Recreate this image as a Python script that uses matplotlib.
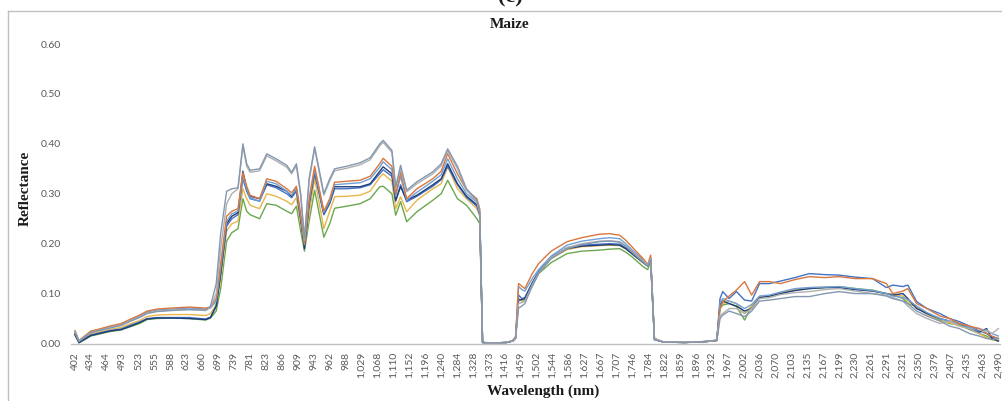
import numpy as np
import matplotlib
matplotlib.use("Agg")
import matplotlib.pyplot as plt
from matplotlib.lines import Line2D

# Category-axis tick labels (band wavelengths, nm)
tick_wavelengths = [402, 434, 464, 493, 523, 555, 588, 623, 660, 699, 739, 781, 823, 866, 909,
                    943, 962, 988, 1029, 1068, 1110, 1152, 1196, 1240, 1284, 1328, 1373, 1416,
                    1459, 1502, 1544, 1586, 1627, 1667, 1707, 1746, 1784, 1822, 1859, 1896, 1932,
                    1967, 2002, 2036, 2070, 2103, 2135, 2167, 2199, 2230, 2261, 2291, 2321, 2350,
                    2379, 2407, 2435, 2463, 2490]

# Sampled wavelengths (nm), by spectral region
wl_vis = [402, 410, 434, 450, 470, 490, 506, 525, 540, 560, 590, 630, 668]
wl_red = [680, 694, 705, 720, 733, 749, 762]
wl_nir = [772, 781, 806, 825, 850, 879, 892, 905, 915, 923, 933, 944, 955, 962, 970, 990, 1025,
          1050, 1074, 1083, 1106, 1116, 1129, 1145, 1173, 1217, 1240, 1258, 1285, 1310, 1339,
          1347, 1355]
wl_gap1 = [1380, 1420, 1437, 1445]
wl_swir1 = [1453, 1462, 1470, 1490, 1507, 1540, 1582, 1620, 1665, 1690, 1715, 1730, 1745, 1772,
            1783, 1790, 1799]
wl_gap2 = [1820, 1870, 1920, 1943]
wl_swir2 = [1950, 1956, 1970, 1986, 2004, 2019, 2036, 2057, 2080, 2110, 2139, 2170, 2199, 2230,
            2264, 2290, 2302, 2321, 2330, 2346, 2365, 2388, 2405, 2422, 2440, 2457, 2470, 2479,
            2490]
wavelength_nm = wl_vis + wl_red + wl_nir + wl_gap1 + wl_swir1 + wl_gap2 + wl_swir2

refl_slate = (
    [0.022, 0.004, 0.022, 0.026, 0.031, 0.036, 0.044, 0.052, 0.060, 0.064, 0.066, 0.068, 0.067]
    + [0.075, 0.120, 0.220, 0.305, 0.310, 0.312, 0.400]
    + [0.360, 0.347, 0.350, 0.380, 0.370, 0.357, 0.343, 0.360, 0.300, 0.210,
       0.330, 0.394, 0.300, 0.330, 0.350, 0.355, 0.362, 0.372, 0.400, 0.407,
       0.387, 0.314, 0.357, 0.307, 0.324, 0.344, 0.360, 0.390, 0.355, 0.310,
       0.287, 0.265, 0.002]
    + [0.001, 0.002, 0.005, 0.010]
    + [0.071, 0.075, 0.080, 0.115, 0.140, 0.170, 0.190, 0.198, 0.204, 0.205, 0.203, 0.195, 0.183,
       0.163, 0.155, 0.168, 0.008]
    + [0.003, 0.002, 0.004, 0.006]
    + [0.050, 0.057, 0.065, 0.060, 0.054, 0.065, 0.085, 0.087, 0.090, 0.094,
       0.094, 0.100, 0.104, 0.100, 0.100, 0.095, 0.090, 0.085, 0.080, 0.065,
       0.055, 0.045, 0.035, 0.030, 0.020, 0.015, 0.010, 0.008, 0.010]
)
refl_gray = (
    [0.025, 0.005, 0.022, 0.026, 0.032, 0.037, 0.045, 0.053, 0.061, 0.065, 0.067, 0.068, 0.066]
    + [0.072, 0.100, 0.190, 0.280, 0.300, 0.310, 0.395]
    + [0.355, 0.343, 0.346, 0.376, 0.366, 0.353, 0.340, 0.356, 0.296, 0.207,
       0.326, 0.390, 0.297, 0.326, 0.346, 0.351, 0.358, 0.368, 0.396, 0.403,
       0.383, 0.311, 0.352, 0.304, 0.320, 0.340, 0.356, 0.386, 0.350, 0.307,
       0.284, 0.262, 0.002]
    + [0.001, 0.002, 0.006, 0.012]
    + [0.080, 0.082, 0.085, 0.118, 0.142, 0.172, 0.192, 0.200, 0.205, 0.206, 0.204, 0.196, 0.185,
       0.165, 0.157, 0.170, 0.010]
    + [0.003, 0.003, 0.004, 0.007]
    + [0.055, 0.060, 0.070, 0.070, 0.060, 0.070, 0.090, 0.092, 0.098, 0.102,
       0.104, 0.108, 0.110, 0.105, 0.100, 0.097, 0.092, 0.085, 0.075, 0.060,
       0.050, 0.040, 0.045, 0.035, 0.030, 0.020, 0.027, 0.020, 0.030]
)
refl_orange = (
    [0.026, 0.006, 0.025, 0.029, 0.035, 0.040, 0.048, 0.057, 0.065, 0.069, 0.071, 0.073, 0.071]
    + [0.073, 0.090, 0.160, 0.255, 0.265, 0.270, 0.342]
    + [0.315, 0.297, 0.290, 0.330, 0.325, 0.310, 0.302, 0.315, 0.260, 0.200,
       0.290, 0.355, 0.265, 0.290, 0.323, 0.325, 0.327, 0.335, 0.360, 0.371,
       0.355, 0.300, 0.343, 0.290, 0.310, 0.330, 0.345, 0.380, 0.340, 0.307,
       0.290, 0.270, 0.002]
    + [0.001, 0.002, 0.006, 0.014]
    + [0.120, 0.115, 0.110, 0.140, 0.160, 0.185, 0.204, 0.212, 0.219, 0.220, 0.217, 0.207, 0.194,
       0.170, 0.158, 0.177, 0.010]
    + [0.003, 0.002, 0.004, 0.006]
    + [0.070, 0.084, 0.095, 0.107, 0.124, 0.097, 0.124, 0.124, 0.120, 0.128,
       0.134, 0.132, 0.134, 0.130, 0.130, 0.120, 0.100, 0.105, 0.110, 0.080,
       0.070, 0.055, 0.050, 0.040, 0.035, 0.030, 0.020, 0.015, 0.010]
)
refl_lightblue = (
    [0.024, 0.005, 0.023, 0.027, 0.033, 0.038, 0.046, 0.055, 0.063, 0.067, 0.069, 0.071, 0.069]
    + [0.071, 0.085, 0.150, 0.245, 0.260, 0.265, 0.335]
    + [0.310, 0.292, 0.285, 0.325, 0.320, 0.305, 0.297, 0.310, 0.255, 0.198,
       0.285, 0.348, 0.262, 0.285, 0.318, 0.320, 0.322, 0.330, 0.353, 0.364,
       0.348, 0.295, 0.335, 0.287, 0.303, 0.325, 0.338, 0.370, 0.330, 0.300,
       0.283, 0.260, 0.002]
    + [0.001, 0.002, 0.005, 0.013]
    + [0.114, 0.108, 0.105, 0.130, 0.148, 0.175, 0.197, 0.205, 0.210, 0.212, 0.210, 0.200, 0.188,
       0.168, 0.158, 0.172, 0.010]
    + [0.003, 0.002, 0.004, 0.006]
    + [0.082, 0.090, 0.085, 0.080, 0.070, 0.078, 0.095, 0.097, 0.103, 0.110,
       0.112, 0.113, 0.114, 0.110, 0.106, 0.100, 0.095, 0.092, 0.088, 0.075,
       0.062, 0.050, 0.045, 0.040, 0.032, 0.030, 0.025, 0.020, 0.015]
)
refl_navy = (
    [0.018, 0.002, 0.016, 0.020, 0.025, 0.028, 0.034, 0.042, 0.049, 0.051, 0.051, 0.050, 0.048]
    + [0.052, 0.075, 0.140, 0.240, 0.255, 0.262, 0.345]
    + [0.310, 0.295, 0.290, 0.320, 0.315, 0.305, 0.295, 0.310, 0.250, 0.190,
       0.280, 0.347, 0.260, 0.283, 0.314, 0.314, 0.314, 0.320, 0.345, 0.354,
       0.340, 0.287, 0.314, 0.287, 0.297, 0.318, 0.330, 0.360, 0.320, 0.295,
       0.278, 0.260, 0.002]
    + [0.001, 0.002, 0.005, 0.011]
    + [0.087, 0.088, 0.090, 0.120, 0.143, 0.172, 0.190, 0.195, 0.197, 0.198, 0.197, 0.190, 0.180,
       0.162, 0.155, 0.168, 0.008]
    + [0.003, 0.002, 0.004, 0.006]
    + [0.078, 0.085, 0.080, 0.075, 0.065, 0.070, 0.092, 0.095, 0.100, 0.106,
       0.110, 0.112, 0.112, 0.108, 0.105, 0.100, 0.097, 0.100, 0.090, 0.070,
       0.060, 0.050, 0.045, 0.040, 0.030, 0.022, 0.030, 0.010, 0.005]
)
refl_blue = (
    [0.019, 0.002, 0.017, 0.021, 0.026, 0.029, 0.036, 0.043, 0.050, 0.052, 0.052, 0.052, 0.049]
    + [0.053, 0.075, 0.140, 0.235, 0.250, 0.258, 0.330]
    + [0.305, 0.290, 0.285, 0.318, 0.312, 0.300, 0.292, 0.305, 0.250, 0.195,
       0.278, 0.340, 0.258, 0.280, 0.310, 0.310, 0.312, 0.318, 0.340, 0.348,
       0.335, 0.285, 0.318, 0.284, 0.295, 0.315, 0.328, 0.355, 0.318, 0.293,
       0.275, 0.258, 0.002]
    + [0.001, 0.002, 0.005, 0.012]
    + [0.097, 0.090, 0.092, 0.122, 0.144, 0.173, 0.192, 0.197, 0.199, 0.200, 0.199, 0.192, 0.182,
       0.164, 0.156, 0.170, 0.010]
    + [0.003, 0.002, 0.004, 0.007]
    + [0.090, 0.104, 0.090, 0.104, 0.087, 0.085, 0.120, 0.120, 0.125, 0.132,
       0.140, 0.138, 0.137, 0.133, 0.130, 0.112, 0.117, 0.114, 0.117, 0.084,
       0.070, 0.060, 0.050, 0.044, 0.035, 0.025, 0.020, 0.012, 0.010]
)
refl_yellow = (
    [0.020, 0.003, 0.019, 0.023, 0.028, 0.032, 0.039, 0.046, 0.054, 0.057, 0.058, 0.058, 0.056]
    + [0.060, 0.078, 0.130, 0.225, 0.240, 0.245, 0.310]
    + [0.290, 0.277, 0.270, 0.300, 0.295, 0.285, 0.278, 0.292, 0.240, 0.195,
       0.260, 0.330, 0.230, 0.265, 0.294, 0.295, 0.297, 0.305, 0.333, 0.340,
       0.325, 0.270, 0.294, 0.264, 0.287, 0.310, 0.320, 0.354, 0.310, 0.290,
       0.270, 0.255, 0.002]
    + [0.001, 0.002, 0.005, 0.011]
    + [0.090, 0.085, 0.090, 0.120, 0.142, 0.170, 0.188, 0.194, 0.196, 0.197, 0.196, 0.190, 0.180,
       0.162, 0.155, 0.167, 0.009]
    + [0.003, 0.002, 0.004, 0.006]
    + [0.075, 0.080, 0.085, 0.080, 0.060, 0.075, 0.094, 0.095, 0.102, 0.108,
       0.112, 0.113, 0.113, 0.110, 0.105, 0.100, 0.098, 0.095, 0.085, 0.072,
       0.058, 0.045, 0.042, 0.035, 0.030, 0.020, 0.012, 0.008, 0.006]
)
refl_green = (
    [0.017, 0.001, 0.015, 0.019, 0.024, 0.027, 0.033, 0.040, 0.048, 0.050, 0.051, 0.050, 0.047]
    + [0.051, 0.065, 0.110, 0.205, 0.222, 0.230, 0.290]
    + [0.265, 0.258, 0.250, 0.280, 0.277, 0.265, 0.260, 0.275, 0.225, 0.185,
       0.245, 0.307, 0.213, 0.240, 0.271, 0.275, 0.280, 0.290, 0.314, 0.315,
       0.300, 0.257, 0.284, 0.244, 0.264, 0.287, 0.300, 0.327, 0.290, 0.277,
       0.250, 0.240, 0.002]
    + [0.001, 0.002, 0.005, 0.010]
    + [0.090, 0.085, 0.088, 0.115, 0.140, 0.162, 0.180, 0.185, 0.187, 0.189, 0.190, 0.183, 0.174,
       0.154, 0.148, 0.165, 0.008]
    + [0.003, 0.002, 0.004, 0.006]
    + [0.070, 0.077, 0.080, 0.074, 0.047, 0.075, 0.094, 0.094, 0.100, 0.108,
       0.110, 0.112, 0.114, 0.110, 0.107, 0.100, 0.098, 0.090, 0.080, 0.074,
       0.060, 0.047, 0.040, 0.037, 0.028, 0.020, 0.015, 0.008, 0.005]
)

series = [
    (refl_green, "#6AA84F"),
    (refl_yellow, "#E8B64A"),
    (refl_blue, "#4472C4"),
    (refl_navy, "#203F7A"),
    (refl_lightblue, "#6FA0D6"),
    (refl_orange, "#D9773F"),
    (refl_gray, "#B0B0B0"),
    (refl_slate, "#8497B0"),
]

W, H = 1003, 401
fig = plt.figure(figsize=(W / 100, H / 100), dpi=100)
fig.patch.set_facecolor("white")

def fx(px):
    return px / W

def fy(py):
    return 1 - py / H

ax_l, ax_r, ax_t, ax_b = 71, 1000, 44, 343.5
ax = fig.add_axes([fx(ax_l), fy(ax_b), (ax_r - ax_l) / W, (ax_b - ax_t) / H])

positions = np.interp(wavelength_nm, tick_wavelengths, np.arange(len(tick_wavelengths)))
for vals, col in series:
    assert len(vals) == len(wavelength_nm)
    ax.plot(positions, vals, color=col, lw=1.0, solid_joinstyle="round")

ax.set_ylim(0, 0.6)
ax.set_xlim(-0.25, 58.1)
ax.set_yticks(np.arange(0, 0.61, 0.1))
ax.set_yticklabels([f"{v:.2f}" for v in np.arange(0, 0.61, 0.1)])
ax.set_xticks(np.arange(len(tick_wavelengths)))
ax.set_xticklabels([f"{v:,}" for v in tick_wavelengths], rotation=90)
for sp in ["top", "right", "left"]:
    ax.spines[sp].set_visible(False)
ax.spines["bottom"].set_color("#BFBFBF")
ax.spines["bottom"].set_linewidth(1.0)
ax.tick_params(axis="both", length=0, colors="#595959", labelsize=7.5)
ax.tick_params(axis="y", pad=7)
ax.tick_params(axis="x", pad=6)
for lab in ax.get_xticklabels() + ax.get_yticklabels():
    lab.set_fontfamily("Lato")

serif = "Liberation Serif"
fig.text(fx(510), fy(25), "Maize", ha="center", va="center", fontsize=11,
         fontweight="bold", family=serif, color="#1a1a1a")
fig.text(fx(25), fy(188), "Reflectance", ha="center", va="center", rotation=90,
         fontsize=11, fontweight="bold", family=serif, color="#1a1a1a")
fig.text(fx(543), fy(391), "Wavelength (nm)", ha="center", va="center", fontsize=11,
         fontweight="bold", family=serif, color="#1a1a1a")
fig.text(fx(510), fy(2.5), "(c)", ha="center", va="baseline", fontsize=16,
         fontweight="bold", family=serif, color="#1a1a1a")

# chart-area border (top and left edges visible)
fig.add_artist(Line2D([fx(8.3), fx(1010)], [fy(10.7), fy(10.7)], color="#BFBFBF", lw=1.0))
fig.add_artist(Line2D([fx(8.3), fx(8.3)], [fy(10.7), fy(410)], color="#BFBFBF", lw=1.0))

fig.savefig("out.png", dpi=100, facecolor="white")
